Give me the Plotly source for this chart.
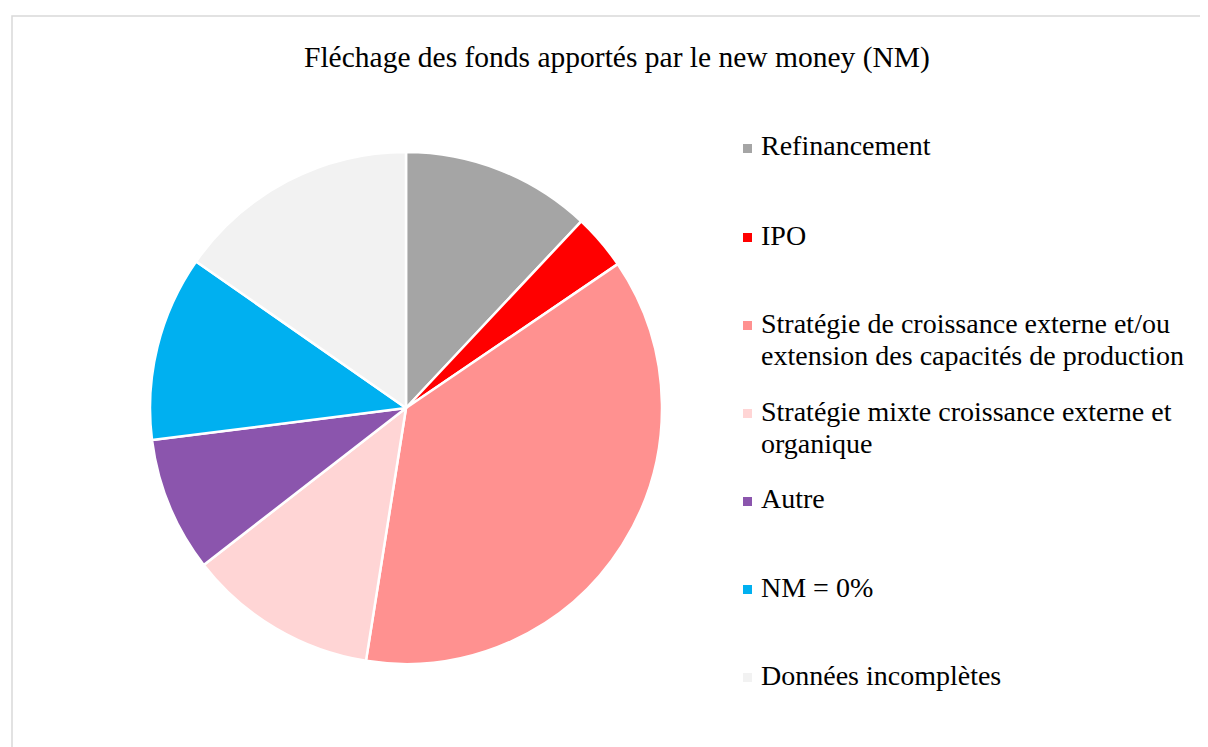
"""Pie chart: fléchage des fonds apportés par le new money."""

import plotly.graph_objects as go

W, H = 1208, 747
OFFSET = 8  # page body margin added by the browser around the plot div

CATEGORIES = [
    "Refinancement",
    "IPO",
    "Stratégie de croissance externe et/ou<br>extension des capacités de production",
    "Stratégie mixte croissance externe et<br>organique",
    "Autre",
    "NM = 0%",
    "Données incomplètes",
]
VALUES = [12.0, 3.5, 37.0, 12.0, 8.5, 11.7, 15.3]
COLORS = ["#A5A5A5", "#FF0000", "#FF9190", "#FFD5D5", "#8B55AD", "#00B0F0", "#F2F2F2"]

# legend rows (pixel y of first text line) to mimic the spread-out Excel legend
LEGEND_Y = [148, 237, 325, 413, 501, 589, 677]
LINE_GAP = 32

FONT = "Liberation Serif"
LEGEND_SIZE = 28
TITLE_SIZE = 29.5


def px_x(x):
    return (x - OFFSET) / W


def px_y(y):
    return 1 - (y - OFFSET) / H


fig = go.Figure(
    go.Pie(
        labels=[c.replace("<br>", " ") for c in CATEGORIES],
        values=VALUES,
        sort=False,
        direction="clockwise",
        rotation=0,
        marker={"colors": COLORS, "line": {"color": "white", "width": 2.5}},
        textinfo="none",
        hoverinfo="label+percent",
        domain={"x": [px_x(150), px_x(662)], "y": [px_y(664), px_y(152)]},
        showlegend=False,
    )
)

shapes = [
    {
        "type": "rect", "xref": "paper", "yref": "paper",
        "x0": px_x(12), "x1": px_x(1240), "y0": px_y(770), "y1": px_y(16),
        "line": {"color": "#D9D9D9", "width": 1.5},
    }
]
annotations = [
    {
        "text": "Fléchage des fonds apportés par le new money (NM)",
        "x": px_x(617), "y": px_y(58), "xref": "paper", "yref": "paper",
        "showarrow": False, "xanchor": "center", "yanchor": "middle",
        "font": {"size": TITLE_SIZE, "color": "#000000", "family": FONT},
    }
]
for label, color, y in zip(CATEGORIES, COLORS, LEGEND_Y):
    shapes.append({
        "type": "rect", "xref": "paper", "yref": "paper",
        "x0": px_x(743), "x1": px_x(752), "y0": px_y(y + 5), "y1": px_y(y - 4),
        "fillcolor": color, "line": {"width": 0},
    })
    for i, line in enumerate(label.split("<br>")):
        annotations.append({
            "text": line, "x": px_x(759), "y": px_y(y - 2 + i * LINE_GAP),
            "xref": "paper", "yref": "paper", "showarrow": False,
            "xanchor": "left", "yanchor": "middle", "align": "left",
            "font": {"size": LEGEND_SIZE, "color": "#000000", "family": FONT},
        })

fig.update_layout(
    width=W,
    height=H,
    margin={"l": 0, "r": 0, "t": 0, "b": 0},
    paper_bgcolor="white",
    plot_bgcolor="white",
    shapes=shapes,
    annotations=annotations,
)

fig.write_html("out.html")
